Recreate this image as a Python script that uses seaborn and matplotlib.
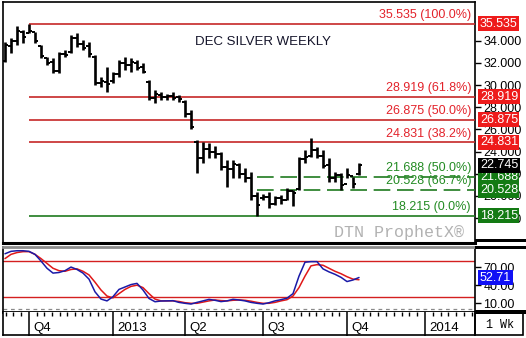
import matplotlib
matplotlib.use("Agg")
import matplotlib.pyplot as plt
import numpy as np
import seaborn as sns
from matplotlib.patches import Rectangle
from matplotlib.ticker import FixedLocator, FormatStrFormatter

# ---------------- data ----------------
week = list(range(60))
high = [33.9, 34.2, 35.3, 34.95, 35.535, 34.8, 33.6, 32.55, 32.4, 33.0,
        33.2, 34.5, 34.66, 34.06, 33.9, 32.7, 30.75, 31.65, 31.2, 32.25,
        32.55, 32.4, 32.25, 31.95, 30.45, 29.55, 29.4, 29.2, 29.4, 29.1,
        28.65, 27.75, 25.0, 24.89, 24.77, 24.5, 23.99, 23.24, 23.24, 22.96,
        22.5, 22.18, 20.38, 20.2, 20.38, 20.0, 20.1, 20.7, 20.5, 23.53,
        24.14, 25.19, 24.44, 24.14, 23.39, 22.18, 22.04, 22.49, 21.73, 22.94]
low = [32.1, 32.9, 33.6, 33.8, 34.65, 33.8, 32.4, 31.8, 31.05, 31.05,
       32.55, 32.9, 33.45, 33.2, 32.55, 30.0, 29.85, 29.4, 30.15, 30.75,
       31.35, 31.2, 31.35, 31.05, 28.65, 28.35, 28.65, 28.65, 28.65, 28.5,
       27.14, 26.0, 22.06, 22.94, 23.42, 23.4, 22.33, 20.83, 21.6, 21.6,
       21.28, 19.63, 18.215, 19.63, 18.88, 19.2, 19.3, 19.63, 19.1, 20.53,
       22.94, 23.53, 23.39, 22.49, 21.28, 21.28, 20.53, 21.59, 20.69, 21.88]
open_ = [32.2, 33.5, 34.0, 34.8, 34.7, 34.8, 33.5, 32.4, 32.1, 31.3,
         32.8, 33.0, 34.2, 33.7, 33.5, 32.5, 30.2, 30.3, 30.4, 31.0,
         32.0, 31.8, 32.0, 31.6, 30.3, 28.8, 29.1, 28.9, 29.0, 28.9,
         28.5, 27.4, 24.9, 23.4, 24.2, 24.0, 23.8, 22.6, 22.4, 22.8,
         22.0, 21.6, 20.0, 19.8, 19.9, 19.3, 19.8, 19.6, 20.4, 20.6,
         23.3, 23.6, 24.1, 23.6, 22.8, 21.6, 21.9, 21.1, 21.8, 22.0]
close = [33.6, 34.0, 34.9, 34.3, 34.9, 34.0, 32.6, 32.0, 31.3, 32.8,
         32.7, 34.2, 33.7, 33.3, 32.8, 30.2, 30.4, 30.1, 31.0, 32.0,
         31.8, 32.1, 31.5, 31.2, 28.8, 29.2, 28.9, 29.0, 28.8, 28.7,
         27.4, 26.2, 23.4, 24.2, 24.0, 23.8, 22.6, 22.4, 22.9, 22.0,
         21.6, 20.0, 19.2, 19.9, 19.3, 19.8, 19.6, 20.4, 20.3, 23.3,
         23.5, 24.1, 23.6, 22.7, 21.6, 21.9, 21.0, 21.9, 21.1, 22.745]
stoch_k = [92, 96, 97, 97, 96, 91, 80, 68, 60, 61,
           64, 70, 66, 60, 50, 29, 17, 14, 21, 33,
           37, 41, 43, 32, 18, 12.6, 13.8, 14, 14.3, 11.5,
           10, 8.8, 11.5, 14, 16.5, 15, 12.8, 14, 16.6, 15.5,
           14, 11.5, 10, 8.8, 11, 14, 16, 18.5, 26, 55,
           78, 79, 79, 67, 62, 58, 53, 46, 48.6, 52.71]
stoch_d = [84, 91, 94, 95.5, 95.5, 91, 84, 76, 68, 64,
           63, 66, 67, 63, 57, 45, 32, 22, 19, 26,
           33, 38, 40, 36, 26, 17, 14, 14, 14, 13,
           11, 10, 10, 12, 14, 15.5, 14.5, 14, 15, 15.5,
           15, 13.5, 11.5, 10, 10, 11.5, 14, 16, 22, 36,
           55, 72, 74, 73, 68, 63, 59, 54, 50, 49]
fib_prices = [35.535, 28.919, 26.875, 24.831, 21.688, 20.528, 18.215]
fib_pcts = ["100.0%", "61.8%", "50.0%", "38.2%", "50.0%", "66.7%", "0.0%"]
fib_is_red = [True, True, True, True, False, False, False]
fib_dashed = [False, False, False, False, True, True, False]
fib_start_week = [4, 4, 4, 4, 42, 42, 4]
last_price = 22.745
last_stoch = 52.71
stoch_levels = [80, 20]
price_ticks = [18, 20, 22, 24, 26, 28, 30, 32, 34]
stoch_ticks = [10, 40, 70]
quarter_pos = [4, 18, 30, 43, 57, 70]
quarter_labels = ["Q4", "2013", "Q2", "Q3", "Q4", "2014"]
title = "DEC SILVER WEEKLY"
watermark = "DTN ProphetX\u00ae"
period_label = "1 Wk"

# ---------------- style ----------------
sns.set_theme(style="white")
plt.rcParams["font.family"] = ["Liberation Sans", "DejaVu Sans"]

RED_LINE = "#c62828"
RED_TEXT = "#e3232b"
GREEN_LINE = "#1f7a1f"
GREEN_TEXT = "#238b23"
RED_BOX = "#ee1b1b"
GREEN_BOX = "#137a13"
BLUE = "#1a1aa8"
BLUE_BOX = "#1010f5"

W, H = 526, 338
fig = plt.figure(figsize=(W / 100, H / 100), dpi=100)
fig.patch.set_facecolor("white")


def ax_rect(x0, y0, x1, y1):
    return [x0 / W, 1 - y1 / H, (x1 - x0) / W, (y1 - y0) / H]


X_LEFT, X_RIGHT = 2.5, 475
xlim = ((X_LEFT - 5) / 6, (X_RIGHT - 5) / 6)

ax = fig.add_axes(ax_rect(X_LEFT, 2, X_RIGHT, 243))
ax2 = fig.add_axes(ax_rect(X_LEFT, 247, X_RIGHT, 312), sharex=ax)
ax3 = fig.add_axes(ax_rect(X_LEFT, 312, X_RIGHT, 335), sharex=ax)

for a in (ax, ax2, ax3):
    a.set_facecolor("white")
    a.grid(False)

ax.set_xlim(*xlim)
ax.set_ylim(15.753, 37.485)
ax2.set_ylim(-4.4, 103.2)
ax3.set_ylim(0, 1)

# ---------------- price bars ----------------
w = np.array(week, dtype=float)
ax.vlines(w, low, high, color="black", lw=1.9, zorder=4)
ax.hlines(open_, w - 0.5, w, color="black", lw=1.4, zorder=4)
ax.hlines(close, w, w + 0.5, color="black", lw=1.4, zorder=4)

# ---------------- fib lines ----------------
x_text = (471 - X_LEFT) / (X_RIGHT - X_LEFT)
for p, pct, red, dashed, st in zip(fib_prices, fib_pcts, fib_is_red, fib_dashed, fib_start_week):
    lc = RED_LINE if red else GREEN_LINE
    tc = RED_TEXT if red else GREEN_TEXT
    ln = ax.hlines(p, st, xlim[1], color=lc, lw=1.2, zorder=3)
    if dashed:
        ln.set_linestyle((0, (10, 4)))
    ax.annotate(f"{p:.3f} ({pct})", xy=(x_text, p), xycoords=("axes fraction", "data"),
                xytext=(0, 2), textcoords="offset points", ha="right", va="bottom",
                fontsize=9, color=tc, zorder=5)
    ax.annotate(f"{p:.3f}", xy=(1, p), xycoords=("axes fraction", "data"),
                xytext=(3.5, 0), textcoords="offset points", ha="left", va="center",
                fontsize=9, color="white", annotation_clip=False, zorder=6,
                bbox=dict(boxstyle="square,pad=0.12", fc=RED_BOX if red else GREEN_BOX, ec="none"))

ax.annotate(f"{last_price:.3f}", xy=(1, last_price), xycoords=("axes fraction", "data"),
            xytext=(3.5, 0), textcoords="offset points", ha="left", va="center",
            fontsize=9, color="white", annotation_clip=False, zorder=6,
            bbox=dict(boxstyle="square,pad=0.12", fc="black", ec="none"))

ax.text((263 - X_LEFT) / (X_RIGHT - X_LEFT), (243 - 42) / 241, title, transform=ax.transAxes,
        ha="center", va="center", fontsize=9.5, color="#14142a")
ax.text((464 - X_LEFT) / (X_RIGHT - X_LEFT), (243 - 232) / 241, watermark, transform=ax.transAxes,
        ha="right", va="center", fontsize=12, color="#b2b2b2", family="Liberation Mono")

# price axis
ax.yaxis.tick_right()
ax.yaxis.set_major_locator(FixedLocator(price_ticks))
ax.yaxis.set_major_formatter(FormatStrFormatter("%.3f"))
ax.tick_params(axis="y", which="major", direction="out", length=4, width=1, labelsize=9,
               pad=2, colors="black", right=True, left=False)
ax.tick_params(axis="x", which="both", bottom=False, top=False, labelbottom=False)
for s in ax.spines.values():
    s.set_color("black")
    s.set_linewidth(1.2)
ax.spines["bottom"].set_linewidth(2.2)

# ---------------- stochastics ----------------
for lv in stoch_levels:
    ax2.axhline(lv, color="#d42020", lw=1.0, zorder=2)
ax2.axhline(0, color="#8a8a8a", lw=0.9, ls=(0, (3, 3)), zorder=2)
sns.lineplot(x=week, y=stoch_d, ax=ax2, color="#e01818", lw=1.1, zorder=3)
sns.lineplot(x=week, y=stoch_k, ax=ax2, color=BLUE, lw=1.1, zorder=4)
ax2.set_xlabel("")
ax2.set_ylabel("")
ax2.yaxis.tick_right()
ax2.yaxis.set_major_locator(FixedLocator(stoch_ticks))
ax2.yaxis.set_major_formatter(FormatStrFormatter("%.2f"))
ax2.tick_params(axis="y", which="major", direction="out", length=4, width=1, labelsize=9,
                pad=2, colors="black", right=True, left=False)
ax2.tick_params(axis="x", which="both", bottom=False, top=False, labelbottom=False)
ax2.annotate(f"{last_stoch:.2f}", xy=(1, last_stoch), xycoords=("axes fraction", "data"),
             xytext=(3.5, 0), textcoords="offset points", ha="left", va="center",
             fontsize=9, color="white", annotation_clip=False, zorder=6,
             bbox=dict(boxstyle="square,pad=0.12", fc=BLUE_BOX, ec="none"))
for s in ax2.spines.values():
    s.set_color("black")
    s.set_linewidth(1.2)
ax2.spines["top"].set_color("#8c8c8c")
ax2.spines["top"].set_linewidth(2.0)
ax2.spines["bottom"].set_linewidth(2.0)

# ---------------- date strip ----------------
minor = []
step = 1.3
q = quarter_pos[0] - step
while q > xlim[0] + 0.2:
    minor.append(q)
    q -= step
for a_, b_ in zip(quarter_pos[:-1], quarter_pos[1:]):
    n = max(1, int(round((b_ - a_) / step)))
    minor.extend(list(np.linspace(a_, b_, n + 1)[1:-1]))
q = quarter_pos[-1] + step
while q < xlim[1] - 0.2:
    minor.append(q)
    q += step
ax3.xaxis.set_ticks_position("top")
ax3.xaxis.set_major_locator(FixedLocator(quarter_pos))
ax3.xaxis.set_minor_locator(FixedLocator(minor))
ax3.tick_params(axis="x", which="major", direction="in", length=17, width=1.1, color="black",
                labeltop=False, labelbottom=False, top=True, bottom=False)
ax3.tick_params(axis="x", which="minor", direction="in", length=3, width=1.0, color="black",
                top=True, bottom=False)
ax3.tick_params(axis="y", left=False, right=False, labelleft=False, labelright=False)
for pos, lab in zip(quarter_pos, quarter_labels):
    ax3.annotate(lab, xy=(pos, 0.3), xycoords=("data", "axes fraction"), xytext=(3, 0),
                 textcoords="offset points", ha="left", va="center", fontsize=9.5, color="black")
for s in ax3.spines.values():
    s.set_color("black")
    s.set_linewidth(1.2)
ax3.spines["top"].set_visible(False)

# ---------------- right column decorations ----------------
fig.patches.append(Rectangle((X_RIGHT / W, 1 - 242 / H), (W - X_RIGHT) / W, 3.5 / H,
                             transform=fig.transFigure, fc="black", ec="none"))
fig.patches.append(Rectangle((X_RIGHT / W, 1 - 249 / H), (W - X_RIGHT) / W, 3.5 / H,
                             transform=fig.transFigure, fc="black", ec="none"))
fig.patches.append(Rectangle((X_RIGHT / W, 1 - 313.5 / H), (W - X_RIGHT) / W, 3.5 / H,
                             transform=fig.transFigure, fc="black", ec="none"))
fig.patches.append(Rectangle((X_RIGHT / W, 1 - 335 / H), (523 - X_RIGHT) / W, (335 - 313) / H,
                             transform=fig.transFigure, fc="none", ec="black", lw=1.2))
fig.text(499.5 / W, 1 - 325 / H, period_label, ha="center", va="center", fontsize=8.5,
         family="Liberation Mono", color="black")

fig.savefig("out.png", dpi=100, facecolor="white")
